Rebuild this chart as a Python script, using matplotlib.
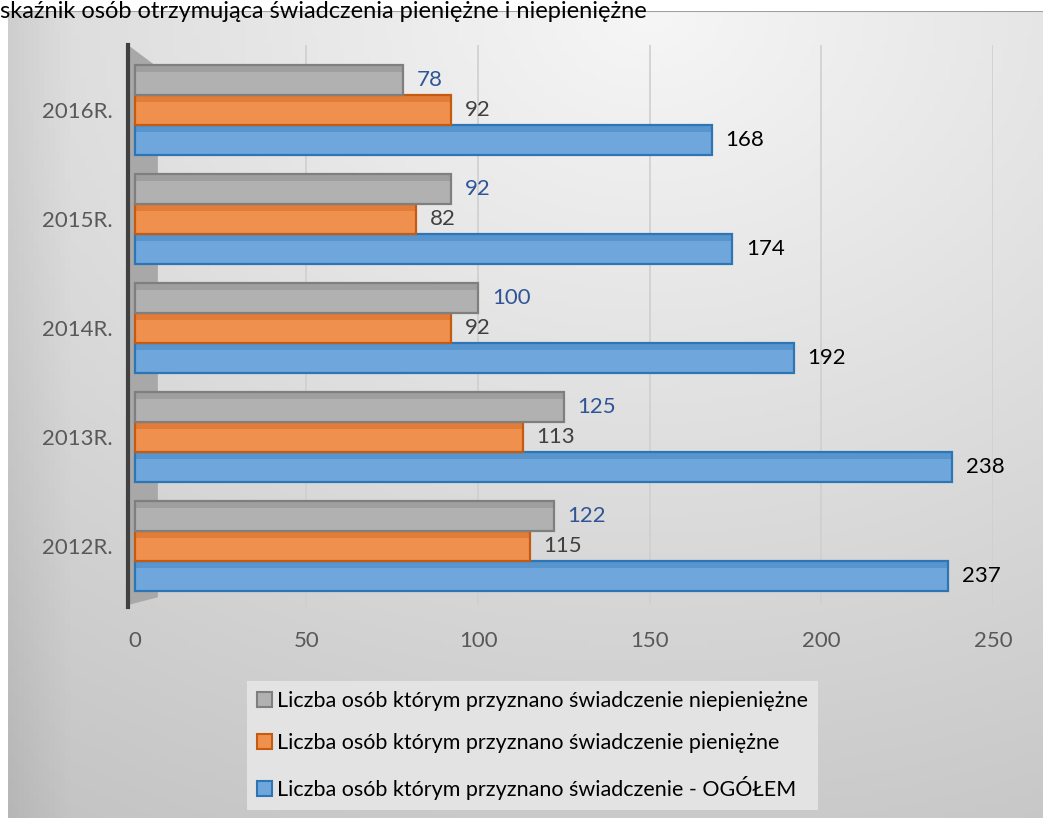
import matplotlib
matplotlib.use("Agg")
import matplotlib.pyplot as plt
import numpy as np
from matplotlib.patches import Rectangle, Polygon

plt.rcParams['font.family'] = ['Lato', 'DejaVu Sans']

# ---- data ----
years = ["2012R.", "2013R.", "2014R.", "2015R.", "2016R."]
niepieniezne = [122, 125, 100, 92, 78]
pieniezne = [115, 113, 92, 82, 92]
ogolem = [237, 238, 192, 174, 168]
series_names = [
    "Liczba osób którym przyznano świadczenie niepieniężne",
    "Liczba osób którym przyznano świadczenie pieniężne",
    "Liczba osób którym przyznano świadczenie - OGÓŁEM",
]
x_ticks = [0, 50, 100, 150, 200, 250]
title_text = "skaźnik osób otrzymująca świadczenia pieniężne i niepieniężne"

# ---- styles ----
face = ["#b1b1b1", "#f0904f", "#6fa7dc"]
edge = ["#7f7f7f", "#c55a11", "#2e75b6"]
lab_col = ["#2f5597", "#404040", "#000000"]

W, H = 1043, 818
fig = plt.figure(figsize=(W / 100, H / 100), dpi=100)
fig.patch.set_facecolor("white")

# background panel with gradient
bg = fig.add_axes([8 / W, 0, 1 - 8 / W, 1 - 11 / H], zorder=0)
gx, gy = np.meshgrid(np.linspace(0, 1, 200), np.linspace(0, 1, 200))
d = np.sqrt((gx - 0.62) ** 2 + (gy - 1.0) ** 2)
val = np.clip(0.965 - 0.17 * d, 0, 1)
val = val - 0.05 * np.clip(0.06 - gx, 0, None) / 0.06
bg.imshow(np.dstack([val, val, val]), extent=[0, 1, 0, 1], origin="lower", aspect="auto")
bg.set_xlim(0, 1); bg.set_ylim(0, 1)
bg.axis("off")
bg.axhline(1, color="#a0a0a0", lw=1.5)

# main axes
x0px, x1px = 128, 993
ax = fig.add_axes([x0px / W, 1 - 605 / H, (x1px - x0px) / W, (605 - 45) / H], zorder=1)
ax.patch.set_alpha(0)
ax.set_xlim(-2, 250)
ax.set_ylim(-0.541, 4.596)

for xv in x_ticks[1:]:
    ax.axvline(xv, color="#cfcfcf", lw=1.2, zorder=0)

# left wall
wall = Polygon([(-2, 4.596), (6.7, 4.39), (6.7, -0.47), (-2, -0.541)],
               closed=True, facecolor="#a8a8a8", edgecolor="none", zorder=0.5)
ax.add_patch(wall)

y = np.arange(len(years))
h = 0.275
offs = [h, 0.0, -h]
data = [niepieniezne, pieniezne, ogolem]
for k in range(3):
    vals = data[k]
    ax.barh(y + offs[k], vals, height=h, color=face[k], edgecolor=edge[k],
            linewidth=1.6, zorder=2 + (2 - k) * 0.1)
    # top face strip (3D look)
    ax.barh(y + offs[k] + h / 2 - 0.03, vals, height=0.06, color=edge[k],
            alpha=0.35, linewidth=0, zorder=2.05 + (2 - k) * 0.1)
    for yi, v in zip(y, vals):
        ax.text(v + 4, yi + offs[k], str(v), color=lab_col[k], fontsize=16,
                va="center", ha="left", zorder=5)

ax.set_yticks(y)
ax.set_yticklabels(years)
ax.set_xticks(x_ticks)
ax.tick_params(axis="both", length=0, labelsize=16, colors="#595959")
ax.tick_params(axis="x", pad=19)
ax.tick_params(axis="y", pad=11)
for s in ["top", "right", "bottom"]:
    ax.spines[s].set_visible(False)
ax.spines["left"].set_color("#404040")
ax.spines["left"].set_linewidth(3)
ax.spines["left"].set_bounds(-0.56, 4.596)

# legend
handles = [Rectangle((0, 0), 1, 1, facecolor=face[k], edgecolor=edge[k], lw=1.5) for k in range(3)]
leg = fig.legend(handles, series_names, loc="upper left",
                 bbox_to_anchor=(247 / W, 1 - 681 / H), borderaxespad=0,
                 fontsize=15.5, frameon=True, fancybox=False, handlelength=0.7,
                 handleheight=0.7, handletextpad=0.25, labelspacing=1.05,
                 borderpad=0.45)
leg.get_frame().set_facecolor("#e3e3e3")
leg.get_frame().set_edgecolor("none")
leg.get_frame().set_alpha(1)
leg.set_zorder(3)

# title at top (partly over the panel edge, as in the reference)
fig.text(0.0, 1 - 18 / H, title_text, fontsize=17, ha="left", va="baseline",
         color="#000000", zorder=4)

fig.savefig("out.png", dpi=100, facecolor=fig.get_facecolor())
